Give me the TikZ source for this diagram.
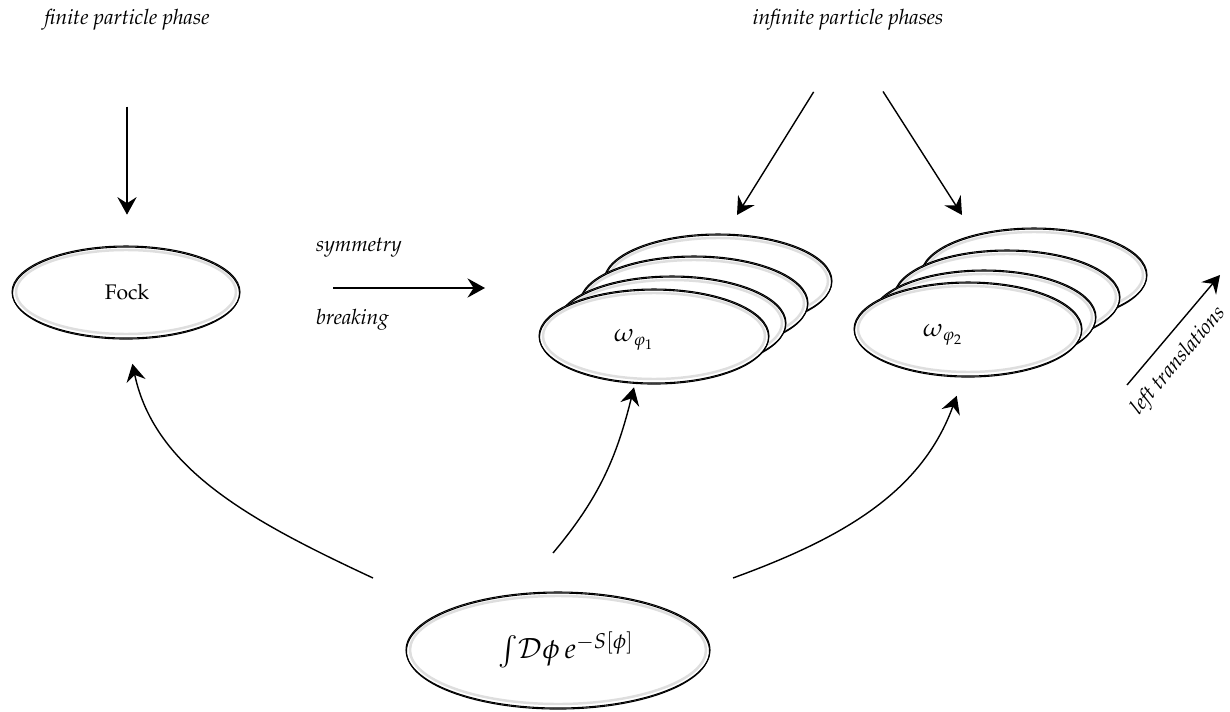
\documentclass[tikz,border=0pt]{standalone}
\usepackage[T1]{fontenc}
\usepackage{mathpazo}
\usetikzlibrary{arrows.meta,shapes.geometric}

% a hand drawn looking oval: white fill, grey inner ring, black outline
\newcommand{\sketchoval}[3]{%
  \fill[white] (#1) ellipse [x radius=#2, y radius=#3];
  \draw[black!13, line width=1.4pt] (#1) ellipse [x radius=#2-4, y radius=#3-4];
  \draw[line width=0.6pt] (#1) ellipse [x radius=#2, y radius=#3];
  \draw[line width=0.6pt, yshift=-0.6pt] (#1) ellipse [x radius=#2-0.5, y radius=#3];
}

\begin{document}
\begin{tikzpicture}[x=0.02cm, y=0.02cm,
    arr/.style={-{Stealth[length=10pt,width=11pt,inset=3.5pt]}, line width=0.8pt},
    oval/.style 2 args={ellipse, minimum width=#1*0.04cm, minimum height=#2*0.04cm, inner sep=0pt},
    lbl/.style={font=\large\itshape}]
  \useasboundingbox (0,0) rectangle (1230,711);

  % Draw the headings
  \node[lbl] (finite) at (127,691) {finite particle phase};
  \node[lbl] (infinite) at (848,691) {infinite particle phases};

  % Draw the Fock oval
  \sketchoval{126,419}{114}{46}
  \node[oval={114}{46}] (fock) at (127,419) {\large Fock};

  % Draw the stack of ovals for omega_phi1 (back to front)
  \sketchoval{718,430}{114}{47}
  \sketchoval{694,408}{114}{47}
  \sketchoval{672,388}{114}{47}
  \sketchoval{654,375}{115}{47}
  \node[oval={115}{47}] (omegaone) at (634,371) {\Large $\omega_{\varphi_1}$};

  % Draw the stack of ovals for omega_phi2 (back to front)
  \sketchoval{1034,436}{113}{47}
  \sketchoval{1007,414}{113}{47}
  \sketchoval{984,394}{112}{47}
  \sketchoval{968,382}{114}{47}
  \node[oval={115}{47}] (omegatwo) at (943,376) {\Large $\omega_{\varphi_2}$};

  % Draw the path integral oval
  \sketchoval{558,61}{152}{58}
  \node[oval={152}{58}] (pathint) at (566,61) {\fontsize{16}{18}\selectfont $\int\!\mathcal{D}\phi\, e^{-S[\phi]}$};

  % Arrows from the headings
  \coordinate (leftpick) at (737,496);
  \coordinate (rightpick) at (962,496);
  \draw[arr, shorten <=1.4cm, shorten >=0.62cm] (finite.south) -- (fock.north);
  \draw[arr, shorten <=1.3cm] (infinite.south) -- (leftpick);
  \draw[arr, shorten <=1.3cm] (infinite.south) -- (rightpick);

  % Symmetry breaking
  \coordinate (sbstart) at (333,423);
  \coordinate (sbend) at (485,423);
  \draw[arr] (sbstart) -- (sbend);
  \node[lbl, anchor=west] (symm) at (310,463) {symmetry};
  \node[lbl, anchor=west] (brk) at (310,391) {breaking};

  % Curved arrows out of the path integral
  \coordinate (leftroot) at (373,133);
  \coordinate (midroot) at (553,158);
  \coordinate (rightroot) at (733,133);
  \draw[arr, shorten >=0.52cm] (leftroot) to[out=155, in=-78] (fock.south);
  \draw[arr] (midroot) to[out=50, in=-104] (omegaone.south);
  \draw[arr, shorten >=0.3cm] (rightroot) to[out=20, in=-110] (omegatwo.-68);

  % Left translations
  \coordinate (ltfoot) at (1127,326);
  \coordinate (lthead) at (1220,436);
  \draw[arr] (ltfoot) -- node[lbl, sloped, below=4pt, pos=0.36] (lttext) {left translations} (lthead);
\end{tikzpicture}
\end{document}
